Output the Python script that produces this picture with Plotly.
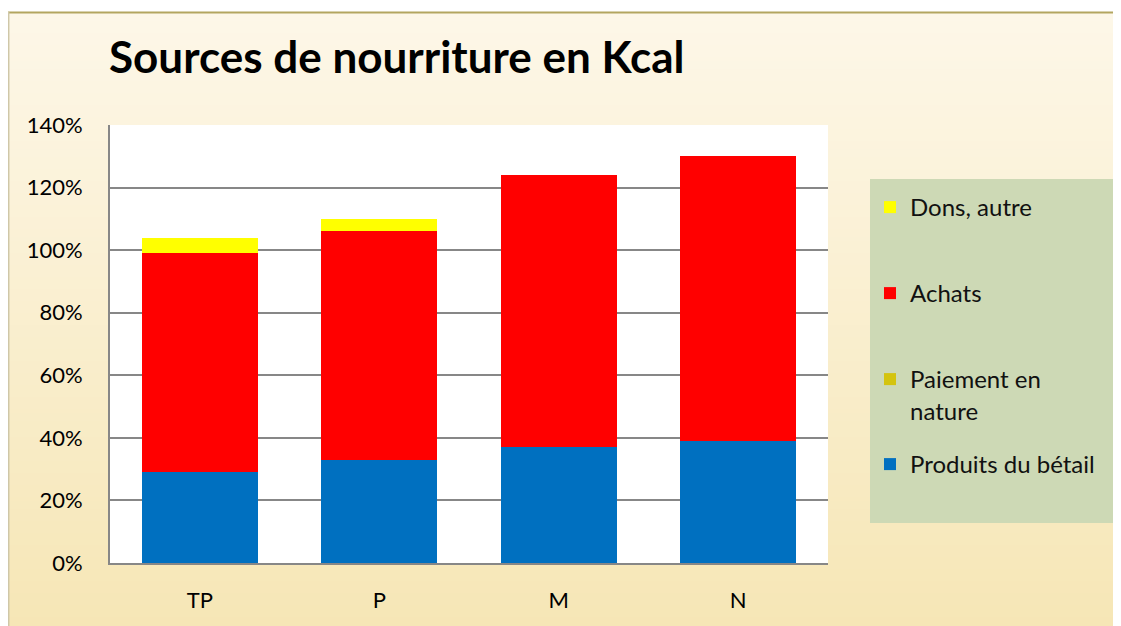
import plotly.graph_objects as go

# ---- data ----
categories = ["TP", "P", "M", "N"]
produits_betail = [29, 33, 37, 39]
paiement_nature = [0, 0, 0, 0]
achats = [70, 73, 87, 91]
dons_autre = [5, 4, 0, 0]
series_names = ["Produits du bétail", "Paiement en<br>nature", "Achats", "Dons, autre"]
y_ticks = [0, 20, 40, 60, 80, 100, 120, 140]
y_tick_labels = ["0%", "20%", "40%", "60%", "80%", "100%", "120%", "140%"]
title_text = "Sources de nourriture en Kcal"

# ---- layout geometry (figure pixels) ----
W, H = 1121, 626
L, R, T, B = 102, 820, 117, 555
FONT = "Lato"


def px_x(p):
    return (p - L) / (R - L)


def px_y(p):
    return (B - p) / (B - T)


colors = ["#0070c0", "#d4c40f", "#ff0000", "#ffff00"]
values = [produits_betail, paiement_nature, achats, dons_autre]
legends = ["legend4", "legend3", "legend2", "legend"]

fig = go.Figure()
for name, vals, col, lg in zip(series_names, values, colors, legends):
    fig.add_trace(go.Bar(x=categories, y=vals, name=name, legend=lg, showlegend=True,
                         marker=dict(color=col, line=dict(width=0))))

# background gradient strips
shapes = []
top_c = (253, 247, 232)
bot_c = (246, 230, 181)
y0 = 5
y_end = 626
step = 4
y = y0
while y < y_end:
    t = (y - y0) / (y_end - y0)
    c = tuple(round(a + (b - a) * t) for a, b in zip(top_c, bot_c))
    shapes.append(dict(type="rect", xref="paper", yref="paper", layer="below",
                       x0=px_x(0), x1=px_x(1112), y0=px_y(y), y1=px_y(y + step + 1),
                       fillcolor="rgb(%d,%d,%d)" % c, line=dict(width=0)))
    y += step
# plot area white
shapes.append(dict(type="rect", xref="paper", yref="paper", layer="below",
                   x0=0, x1=1, y0=0, y1=1, fillcolor="white", line=dict(width=0)))
# legend box
shapes.append(dict(type="rect", xref="paper", yref="paper", layer="below",
                   x0=px_x(862), x1=px_x(1110), y0=px_y(515), y1=px_y(171),
                   fillcolor="#cdd9b5", line=dict(width=0)))
# frame border
shapes.append(dict(type="line", xref="paper", yref="paper", layer="below",
                   x0=px_x(0), x1=px_x(1112), y0=px_y(4.5), y1=px_y(4.5),
                   line=dict(color="#b3a660", width=2)))
shapes.append(dict(type="line", xref="paper", yref="paper", layer="below",
                   x0=px_x(0.7), x1=px_x(0.7), y0=px_y(4), y1=px_y(630),
                   line=dict(color="#cfc7a8", width=1.5)))

legend_common = dict(xref="container", yref="container", xanchor="left", yanchor="top",
                     bgcolor="rgba(0,0,0,0)", borderwidth=0, valign="top",
                     font=dict(family=FONT, size=24, color="#111111"))
leg_x = 862 / W
leg_tops = [177, 263, 349, 434]

fig.update_layout(
    width=W, height=H,
    margin=dict(l=L, r=W - R, t=T, b=H - B, pad=0),
    paper_bgcolor="white",
    plot_bgcolor="white",
    barmode="stack",
    bargap=0.354,
    showlegend=True,
    shapes=shapes,
    title=dict(text="<b>" + title_text + "</b>", xref="container", yref="container",
               x=101 / W, xanchor="left", y=1 - 50 / H, yanchor="middle",
               font=dict(family=FONT, size=44, color="#000000")),
    legend=dict(x=leg_x, y=1 - leg_tops[0] / H, **legend_common),
    legend2=dict(x=leg_x, y=1 - leg_tops[1] / H, **legend_common),
    legend3=dict(x=leg_x, y=1 - leg_tops[2] / H, **legend_common),
    legend4=dict(x=leg_x, y=1 - leg_tops[3] / H, **legend_common),
    xaxis=dict(showline=True, linecolor="#878787", linewidth=2, ticks="",
               showgrid=False, ticklabelstandoff=17,
               tickfont=dict(family=FONT, size=22, color="#000000")),
    yaxis=dict(range=[0, 140], tickmode="array", tickvals=y_ticks, ticktext=y_tick_labels,
               showline=True, linecolor="#878787", linewidth=2,
               showgrid=True, gridcolor="#878787", gridwidth=1.5,
               zeroline=False, ticks="", ticklabelstandoff=21,
               tickfont=dict(family=FONT, size=22, color="#000000")),
)

fig.write_html("out.html")
